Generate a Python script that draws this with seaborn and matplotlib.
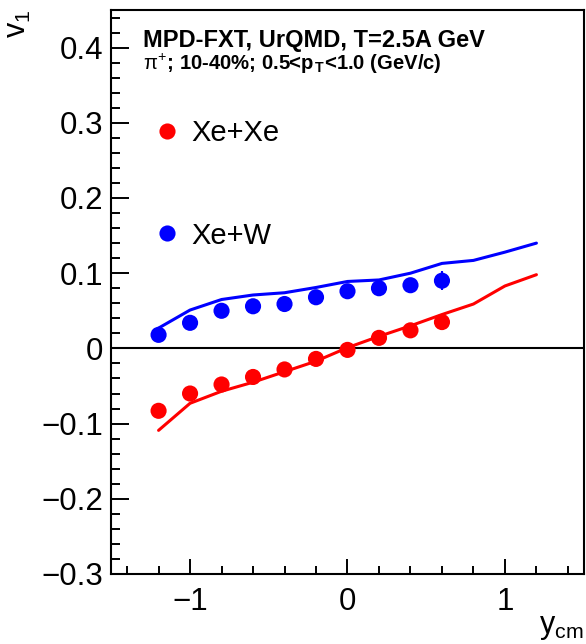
import numpy as np
import pandas as pd
import matplotlib
matplotlib.use("Agg")
import matplotlib.pyplot as plt
import seaborn as sns
from matplotlib.ticker import MultipleLocator

# Measured pi+ directed flow v1 vs rapidity (10-40%, 0.5<pT<1.0 GeV/c)
rapidity = [-1.2, -1.0, -0.8, -0.6, -0.4, -0.2, 0.0, 0.2, 0.4, 0.6]
v1_xexe = [-0.083, -0.060, -0.048, -0.038, -0.028, -0.014, -0.002, 0.014, 0.024, 0.035]
err_xexe = [0.004, 0.004, 0.004, 0.004, 0.004, 0.004, 0.004, 0.004, 0.005, 0.007]
v1_xew = [0.018, 0.034, 0.050, 0.056, 0.059, 0.068, 0.076, 0.080, 0.084, 0.090]
err_xew = [0.004, 0.004, 0.004, 0.004, 0.004, 0.004, 0.004, 0.005, 0.006, 0.013]

# UrQMD model curves
rapidity_model = [-1.2, -1.0, -0.8, -0.6, -0.4, -0.2, 0.0, 0.2, 0.4, 0.6, 0.8, 1.0, 1.2]
model_xexe = [-0.109, -0.073, -0.057, -0.045, -0.031, -0.017, 0.001, 0.016, 0.030, 0.045, 0.059, 0.083, 0.098]
model_xew = [0.027, 0.051, 0.065, 0.071, 0.074, 0.081, 0.089, 0.091, 0.100, 0.113, 0.117, 0.128, 0.140]

systems = ["Xe+Xe", "Xe+W"]
colors = {"Xe+Xe": "#ff0000", "Xe+W": "#0000ff"}

points = pd.DataFrame({
    "y": rapidity * 2,
    "v1": v1_xexe + v1_xew,
    "err": err_xexe + err_xew,
    "system": [systems[0]] * len(rapidity) + [systems[1]] * len(rapidity),
})
curves = pd.DataFrame({
    "y": rapidity_model * 2,
    "v1": model_xexe + model_xew,
    "system": [systems[0]] * len(rapidity_model) + [systems[1]] * len(rapidity_model),
})

sns.set_theme(style="white")
plt.rcParams["font.family"] = ["Liberation Sans", "DejaVu Sans"]
plt.rcParams["mathtext.fontset"] = "custom"
plt.rcParams["mathtext.rm"] = "Liberation Sans"
plt.rcParams["mathtext.it"] = "Liberation Sans"
plt.rcParams["mathtext.bf"] = "Liberation Sans:bold"
plt.rcParams["text.color"] = "black"
plt.rcParams["axes.labelcolor"] = "black"

fig = plt.figure(figsize=(5.86, 6.44), dpi=100)
ax = fig.add_axes([0.190, 0.1087, 0.806, 0.8758])

sns.lineplot(data=curves, x="y", y="v1", hue="system", hue_order=systems,
             palette=colors, linewidth=2.2, legend=False, ax=ax, zorder=2)

for name in systems:
    sub = points[points["system"] == name]
    ax.errorbar(sub["y"], sub["v1"], yerr=sub["err"], fmt="none",
                ecolor=colors[name], elinewidth=1.5, zorder=3)

sns.scatterplot(data=points, x="y", y="v1", hue="system", hue_order=systems,
                palette=colors, s=135, linewidth=0, ax=ax, zorder=4)

ax.axhline(0, color="black", linewidth=1.5, zorder=1)

ax.set_xlim(-1.5, 1.5)
ax.set_ylim(-0.3, 0.45)
ax.xaxis.set_major_locator(MultipleLocator(1.0))
ax.xaxis.set_minor_locator(MultipleLocator(0.2))
ax.yaxis.set_major_locator(MultipleLocator(0.1))
ax.yaxis.set_minor_locator(MultipleLocator(0.02))
ax.tick_params(axis="both", which="both", direction="in", width=1.4,
               colors="black", labelsize=22.5, top=False, right=False,
               bottom=True, left=True)
ax.tick_params(axis="y", which="major", length=13, pad=6)
ax.tick_params(axis="y", which="minor", length=6.5)
ax.tick_params(axis="x", which="major", length=11, pad=9.5)
ax.tick_params(axis="x", which="minor", length=5.8)
ax.set_yticks([-0.3, -0.2, -0.1, 0.0, 0.1, 0.2, 0.3, 0.4])
ax.set_yticklabels(["\u22120.3", "\u22120.2", "\u22120.1", "0", "0.1", "0.2", "0.3", "0.4"])
ax.set_xticks([-1, 0, 1])
ax.set_xticklabels(["\u22121", "0", "1"])
for s in ax.spines.values():
    s.set_linewidth(1.5)
    s.set_color("black")

ax.set_xlabel(r"y$_{\mathregular{cm}}$", loc="right", fontsize=22, labelpad=-4)
ax.set_ylabel(r"v$_{\mathregular{1}}$", loc="top", fontsize=22, labelpad=6)

leg = ax.legend(loc="upper left", bbox_to_anchor=(0.063, 0.827), frameon=False,
                fontsize=21, labelspacing=2.55, handlelength=1.0,
                handletextpad=0.32, borderaxespad=0, markerscale=1.0, title=None)

ax.text(0.066, 0.934, "MPD-FXT, UrQMD, T=2.5A GeV", transform=ax.transAxes,
        fontsize=17, fontweight="bold", va="baseline", ha="left")
ax.text(0.066, 0.8936, r"$\pi^{+}$; 10-40%; 0.5<p$_{\,\mathbf{T}}$<1.0 (GeV/c)",
        transform=ax.transAxes, fontsize=14.6, fontweight="bold", va="baseline", ha="left")

fig.savefig("out.png", dpi=100)
